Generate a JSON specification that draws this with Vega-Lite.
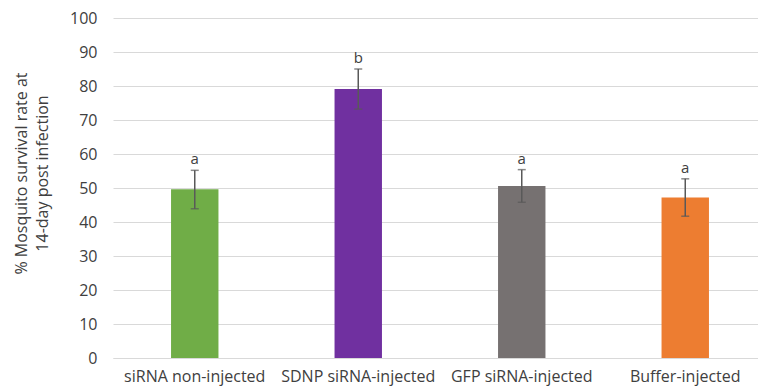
{
  "$schema": "https://vega.github.io/schema/vega-lite/v6.json",
  "width": 654,
  "height": 340,
  "autosize": {"type": "none"},
  "padding": {"left": 113, "top": 18, "right": 0, "bottom": 30},
  "background": "white",
  "config": {
    "view": {"stroke": null},
    "font": "Open Sans",
    "axis": {"labelFont": "Open Sans", "titleFont": "Open Sans"},
    "axisY": {
      "titleFontSize": 16,
      "titleFontWeight": "normal",
      "titleColor": "#404040",
      "titlePadding": 19,
      "titleY": 155,
      "titleLineHeight": 21,
      "labelOverlap": false,
      "labelFontSize": 16,
      "labelColor": "#404040",
      "labelPadding": 16,
      "ticks": false,
      "domain": false,
      "grid": true,
      "gridColor": "#d9d9d9",
      "gridWidth": 1.2
    }
  },
  "data": {
    "values": [
      {"group": "siRNA non-injected", "rate": 49.6, "low": 43.9, "high": 55.2, "sig": "a", "color": "#70ad47"},
      {"group": "SDNP siRNA-injected", "rate": 79.1, "low": 73.2, "high": 85.0, "sig": "b", "color": "#7030a0"},
      {"group": "GFP siRNA-injected", "rate": 50.6, "low": 45.8, "high": 55.4, "sig": "a", "color": "#767171"},
      {"group": "Buffer-injected", "rate": 47.2, "low": 41.7, "high": 52.7, "sig": "a", "color": "#ed7d31"}
    ]
  },
  "encoding": {
    "x": {
      "field": "group",
      "type": "nominal",
      "sort": null,
      "scale": {"paddingInner": 0.71, "paddingOuter": 0.355},
      "axis": {
        "title": null,
        "labelAngle": 0,
        "labelFontSize": 16,
        "labelColor": "#404040",
        "labelPadding": 10,
        "ticks": false,
        "domain": true,
        "domainColor": "#d9d9d9",
        "domainWidth": 1.2,
        "grid": false
      }
    }
  },
  "layer": [
    {
      "mark": {"type": "bar"},
      "encoding": {
        "y": {
          "field": "rate", "type": "quantitative", "scale": {"domain": [0, 100]},
          "axis": {"title": ["% Mosquito survival rate at", "14-day post infection"], "values": [0, 10, 20, 30, 40, 50, 60, 70, 80, 90, 100]}
        },
        "color": {"field": "color", "type": "nominal", "scale": null, "legend": null}
      }
    },
    {
      "mark": {"type": "rule", "color": "#595959", "strokeWidth": 1.5},
      "encoding": {
        "y": {"field": "low", "type": "quantitative", "axis": {"title": ["% Mosquito survival rate at", "14-day post infection"], "values": [0, 10, 20, 30, 40, 50, 60, 70, 80, 90, 100]}},
        "y2": {"field": "high"}
      }
    },
    {
      "mark": {"type": "tick", "color": "#595959", "thickness": 1.5, "size": 8},
      "encoding": {"y": {"field": "low", "type": "quantitative", "axis": {"title": ["% Mosquito survival rate at", "14-day post infection"], "values": [0, 10, 20, 30, 40, 50, 60, 70, 80, 90, 100]}}}
    },
    {
      "mark": {"type": "tick", "color": "#595959", "thickness": 1.5, "size": 8},
      "encoding": {"y": {"field": "high", "type": "quantitative", "axis": {"title": ["% Mosquito survival rate at", "14-day post infection"], "values": [0, 10, 20, 30, 40, 50, 60, 70, 80, 90, 100]}}}
    },
    {
      "mark": {"type": "text", "baseline": "bottom", "dy": -3, "fontSize": 15, "color": "#404040"},
      "encoding": {
        "y": {"field": "high", "type": "quantitative", "axis": {"title": ["% Mosquito survival rate at", "14-day post infection"], "values": [0, 10, 20, 30, 40, 50, 60, 70, 80, 90, 100]}},
        "text": {"field": "sig"}
      }
    }
  ]
}
